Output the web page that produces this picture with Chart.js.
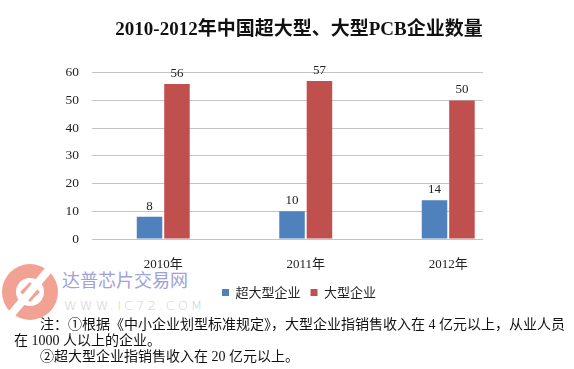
<!DOCTYPE html>
<html>
<head>
<meta charset="utf-8">
<script src="https://cdn.jsdelivr.net/npm/chart.js@4"></script>
<style>
  body { margin: 0; background: #fff; }
  #wrap { position: relative; width: 574px; height: 369px; overflow: hidden; }
  #myChart { position: absolute; left: 0; top: 0; z-index: 2; }
  .logo { position: absolute; left: 2px; top: 264px; width: 56px; height: 56px; border-radius: 50%;
          background: #f2a293; z-index: 1; }
  .logo .ring { position: absolute; left: 14px; top: 14px; width: 28px; height: 28px; border-radius: 50%; background: #fff; }
  .logo .dia { position: absolute; left: 21px; top: 21px; width: 14px; height: 14px; background: #f2a293; transform: rotate(45deg); }
  .logo .cut { position: absolute; left: 24px; top: -4px; width: 8px; height: 64px; background: #fff; transform: rotate(40deg); }
  .wm1 { position: absolute; left: 62px; top: 266px; font: 18px "Noto Sans CJK SC"; color: #9ea2d6; z-index: 1; }
  .wm2 { position: absolute; left: 64px; top: 298px; font: 300 13px "DejaVu Sans", sans-serif; color: #cfcfcf; letter-spacing: 3px; z-index: 1; }
  .notes { position: absolute; left: 0; top: 317px; width: 574px; font: 14px "Liberation Serif", "Noto Sans CJK SC"; color: #111;
           line-height: 16px; z-index: 3; }
  .notes div { white-space: nowrap; }
</style>
</head>
<body>
<div id="wrap">
  <div class="logo"><div class="ring"></div><div class="dia"></div><div class="cut"></div></div>
  <div class="wm1">达普芯片交易网</div>
  <div class="wm2">WWW.IC72.COM</div>
  <canvas id="myChart" width="574" height="369"></canvas>
  <div class="notes">
    <div style="padding-left:40px">注：①根据《中小企业划型标准规定》，大型企业指销售收入在 4 亿元以上，从业人员</div>
    <div style="padding-left:14px">在 1000 人以上的企业。</div>
    <div style="padding-left:40px">②超大型企业指销售收入在 20 亿元以上。</div>
  </div>
</div>
<script>
// Chart data
const categories = ["2010年", "2011年", "2012年"];
const xPositions = [0, 1, 2];
const superLarge = [8, 10, 14];
const large = [56, 57, 50];
const yTicks = [0, 10, 20, 30, 40, 50, 60];

const serif = "'Liberation Serif', 'Noto Sans CJK SC'";

function toPoints(values) {
  return values.map((v, i) => ({ x: xPositions[i], y: v }));
}

// Draw the value above each bar
const valueLabels = {
  id: "valueLabels",
  afterDatasetsDraw(chart) {
    const c = chart.ctx;
    c.save();
    c.font = "13px " + serif;
    c.fillStyle = "#222";
    c.textAlign = "center";
    c.textBaseline = "bottom";
    chart.data.datasets.forEach((ds, di) => {
      chart.getDatasetMeta(di).data.forEach((bar, i) => {
        c.fillText(ds.data[i].y, bar.x, bar.y - 4);
      });
    });
    c.restore();
  },
};

const ctx = document.getElementById("myChart");
const myChart = new Chart(ctx, {
  type: "bar",
  data: {
    datasets: [
      {
        label: "超大型企业",
        data: toPoints(superLarge),
        backgroundColor: "#4f81bd",
        yAxisID: "y",
      },
      {
        label: "大型企业",
        data: toPoints(large),
        backgroundColor: "#c0504d",
        yAxisID: "y",
      },
    ],
  },
  options: {
    responsive: false,
    animation: false,
    categoryPercentage: 0.385,
    barPercentage: 0.93,
    layout: { padding: { left: 24, right: 0, top: 0, bottom: 60 } },
    plugins: {
      title: {
        display: true,
        text: "2010-2012年中国超大型、大型PCB企业数量",
        color: "#111",
        font: { family: serif, size: 19, weight: "bold" },
        padding: { top: 19, bottom: 31 },
      },
      legend: {
        position: "bottom",
        labels: {
          boxWidth: 7,
          boxHeight: 7,
          padding: 10,
          color: "#222",
          font: { family: "'Noto Sans CJK SC'", size: 13 },
        },
      },
      tooltip: { enabled: false },
    },
    scales: {
      x: {
        type: "linear",
        offset: false,
        min: -0.5,
        max: 2.244,
        afterBuildTicks: (s) => { s.ticks = xPositions.map((v) => ({ value: v })); },
        afterFit: (s) => { s.height = 37; },
        grid: { display: false },
        border: { display: false },
        ticks: {
          padding: 10,
          maxRotation: 0,
          color: "#222",
          font: { family: serif, size: 13 },
          callback: (v) => categories[v],
        },
      },
      y: {
        min: 0,
        max: 60,
        afterBuildTicks: (s) => { s.ticks = yTicks.map((v) => ({ value: v })); },
        afterFit: (s) => { s.width = 68; },
        grid: { color: "#c4c4c4", drawTicks: false },
        border: { display: false },
        ticks: {
          padding: 13,
          color: "#222",
          font: { family: serif, size: 13.5 },
        },
      },
      yRight: {
        position: "right",
        min: 0,
        max: 60,
        afterFit: (s) => { s.width = 91; },
        grid: { display: false },
        border: { display: false },
        ticks: { display: false },
      },
    },
  },
  plugins: [valueLabels],
});
</script>
</body>
</html>
